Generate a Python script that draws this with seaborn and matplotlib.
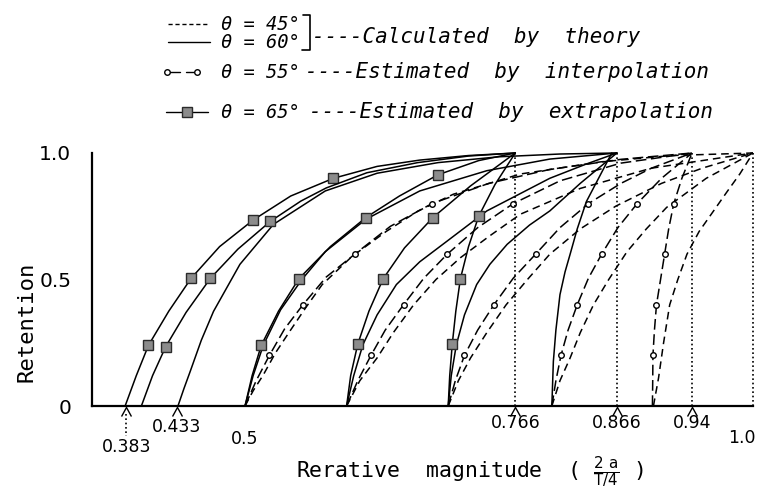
import numpy as np
import pandas as pd
import matplotlib
matplotlib.use("Agg")
import matplotlib.pyplot as plt
from matplotlib.path import Path
import seaborn as sns

# ---------------------------------------------------------------------------
# Retention curves: x = relative magnitude 2a/(T/4), y = retention
# theta = 65 deg (estimated by extrapolation, squares), ends at 0.766
s65_a_x = [0.382, 0.393, 0.405, 0.425, 0.447, 0.475, 0.508, 0.545, 0.587, 0.630, 0.672, 0.720, 0.766]
s65_a_y = [0.0, 0.12, 0.24, 0.375, 0.505, 0.63, 0.735, 0.83, 0.90, 0.947, 0.972, 0.99, 1.0]
s65_b_x = [0.398, 0.409, 0.422, 0.442, 0.466, 0.493, 0.525, 0.555, 0.580, 0.620, 0.670, 0.720, 0.766]
s65_b_y = [0.0, 0.12, 0.235, 0.37, 0.505, 0.62, 0.73, 0.81, 0.862, 0.922, 0.962, 0.988, 1.0]
s65_c_x = [0.5, 0.507, 0.516, 0.533, 0.553, 0.584, 0.619, 0.652, 0.690, 0.730, 0.766]
s65_c_y = [0.0, 0.12, 0.24, 0.375, 0.503, 0.63, 0.745, 0.83, 0.914, 0.97, 1.0]
s65_d_x = [0.6, 0.604, 0.611, 0.622, 0.636, 0.657, 0.685, 0.722, 0.766]
s65_d_y = [0.0, 0.12, 0.245, 0.375, 0.503, 0.625, 0.745, 0.87, 1.0]
s65_e_x = [0.7, 0.7015, 0.704, 0.7075, 0.712, 0.720, 0.730, 0.746, 0.766]
s65_e_y = [0.0, 0.12, 0.245, 0.375, 0.503, 0.63, 0.75, 0.875, 1.0]
s65_marks = [[2, 4, 6, 8], [2, 4, 6], [2, 4, 6, 8], [2, 4, 6], [2, 4, 6]]

# theta = 60 deg (calculated by theory, solid), ends at 0.866
t60_a_x = [0.434, 0.440, 0.446, 0.457, 0.469, 0.495, 0.528, 0.579, 0.630, 0.690, 0.750, 0.810, 0.866]
t60_a_y = [0.0, 0.07, 0.136, 0.26, 0.374, 0.56, 0.718, 0.85, 0.92, 0.962, 0.985, 0.996, 1.0]
t60_b_x = [0.5, 0.508, 0.518, 0.535, 0.556, 0.579, 0.619, 0.672, 0.738, 0.800, 0.866]
t60_b_y = [0.0, 0.12, 0.24, 0.38, 0.50, 0.61, 0.738, 0.85, 0.93, 0.976, 1.0]
t60_c_x = [0.6, 0.607, 0.616, 0.630, 0.649, 0.672, 0.699, 0.738, 0.800, 0.835, 0.866]
t60_c_y = [0.0, 0.12, 0.242, 0.36, 0.48, 0.57, 0.652, 0.771, 0.90, 0.955, 1.0]
t60_d_x = [0.7, 0.703, 0.708, 0.716, 0.728, 0.741, 0.758, 0.780, 0.800, 0.830, 0.866]
t60_d_y = [0.0, 0.12, 0.242, 0.36, 0.48, 0.56, 0.639, 0.715, 0.771, 0.88, 1.0]
t60_e_x = [0.802, 0.8035, 0.806, 0.810, 0.815, 0.820, 0.827, 0.836, 0.848, 0.861]
t60_e_y = [0.0, 0.176, 0.30, 0.44, 0.53, 0.60, 0.70, 0.808, 0.90, 1.0]

# theta = 55 deg (estimated by interpolation, circles), ends at 0.94
i55_a_x = [0.5, 0.511, 0.524, 0.539, 0.557, 0.580, 0.608, 0.643, 0.684, 0.740, 0.800, 0.870, 0.940]
i55_a_y = [0.0, 0.1, 0.2, 0.305, 0.4, 0.51, 0.6, 0.71, 0.8, 0.88, 0.935, 0.975, 1.0]
i55_b_x = [0.6, 0.611, 0.624, 0.638, 0.656, 0.676, 0.699, 0.729, 0.764, 0.810, 0.870, 0.940]
i55_b_y = [0.0, 0.1, 0.2, 0.3, 0.4, 0.505, 0.6, 0.705, 0.8, 0.89, 0.96, 1.0]
i55_c_x = [0.7, 0.707, 0.716, 0.729, 0.745, 0.764, 0.786, 0.810, 0.838, 0.870, 0.900, 0.940]
i55_c_y = [0.0, 0.1, 0.2, 0.3, 0.4, 0.505, 0.6, 0.705, 0.8, 0.88, 0.94, 1.0]
i55_d_x = [0.802, 0.806, 0.811, 0.818, 0.827, 0.838, 0.851, 0.867, 0.886, 0.910, 0.940]
i55_d_y = [0.0, 0.1, 0.2, 0.3, 0.4, 0.505, 0.6, 0.705, 0.8, 0.9, 1.0]
i55_e_x = [0.901, 0.9013, 0.9015, 0.903, 0.905, 0.909, 0.913, 0.917, 0.922, 0.930, 0.940]
i55_e_y = [0.0, 0.1, 0.2, 0.3, 0.4, 0.5, 0.6, 0.7, 0.8, 0.9, 1.0]
i55_marks = [2, 4, 6, 8]

# theta = 45 deg (calculated by theory, dashed), ends at 1.0
t45_a_x = [0.5, 0.508, 0.518, 0.530, 0.544, 0.560, 0.576, 0.605, 0.639, 0.670, 0.705, 0.771, 0.850, 0.920, 1.0]
t45_a_y = [0.0, 0.06, 0.123, 0.21, 0.295, 0.39, 0.48, 0.59, 0.69, 0.77, 0.837, 0.917, 0.965, 0.99, 1.0]
t45_b_x = [0.6, 0.613, 0.630, 0.646, 0.666, 0.688, 0.712, 0.740, 0.771, 0.830, 0.900, 1.0]
t45_b_y = [0.0, 0.1, 0.19, 0.29, 0.40, 0.50, 0.586, 0.67, 0.758, 0.86, 0.94, 1.0]
t45_c_x = [0.7, 0.710, 0.722, 0.738, 0.757, 0.778, 0.800, 0.830, 0.865, 0.910, 0.950, 1.0]
t45_c_y = [0.0, 0.1, 0.19, 0.29, 0.40, 0.5, 0.6, 0.7, 0.79, 0.88, 0.94, 1.0]
t45_d_x = [0.802, 0.810, 0.820, 0.830, 0.843, 0.858, 0.876, 0.895, 0.915, 0.954, 1.0]
t45_d_y = [0.0, 0.1, 0.19, 0.29, 0.40, 0.5, 0.61, 0.7, 0.785, 0.90, 1.0]
t45_e_x = [0.902, 0.907, 0.912, 0.918, 0.926, 0.935, 0.947, 0.961, 0.975, 0.987, 1.0]
t45_e_y = [0.0, 0.11, 0.25, 0.40, 0.5, 0.6, 0.69, 0.77, 0.85, 0.917, 1.0]

# reference values on the x axis
limit_x = [0.766, 0.866, 0.94, 1.0]
caret_x = [0.383, 0.433, 0.766, 0.866, 0.94]
xtick_vals = [0.5, 0.6, 0.7, 0.8, 0.9, 1.0]
xlabel_vals = ["0.383", "0.433", "0.5", "0.766", "0.866", "0.94", "1.0"]
ytick_vals = [0.0, 0.25, 0.5, 0.75, 1.0]
ylabel_text = {0.0: "0", 0.5: "0.5", 1.0: "1.0"}

# ---------------------------------------------------------------------------
sns.set_style("white")
plt.rcParams["font.family"] = ["DejaVu Sans"]
plt.rcParams["mathtext.fontset"] = "dejavusans"
for key in ["text.color", "axes.labelcolor", "xtick.color", "ytick.color"]:
    plt.rcParams[key] = "black"

MONO = ["DejaVu Sans Mono"]

W, H = 762, 493
fig = plt.figure(figsize=(W / 100, H / 100), dpi=100)
fig.patch.set_facecolor("white")

# overlay in pixel units for the key and the free-standing labels
lax = fig.add_axes([0, 0, 1, 1])
lax.set_xlim(0, W)
lax.set_ylim(H, 0)
lax.axis("off")

ax = fig.add_axes([92 / W, 1 - 406 / H, (753 - 92) / W, (406 - 153) / H])
ax.set_facecolor("none")
ax.set_xlim(0.3494, 1.0)
ax.set_ylim(0, 1.0)

LW = 1.1
DASH45 = (0, (5, 3.2))
DASH55 = (0, (7, 3))


def curve(x, y, ls="-", marker=None, marks=None, **kw):
    df = pd.DataFrame({"x": x, "y": y})
    sns.lineplot(data=df, x="x", y="y", ax=ax, sort=False, estimator=None,
                 color="black", lw=LW, linestyle=ls, marker=marker,
                 markevery=marks, clip_on=False, **kw)


sq_kw = dict(markersize=6.5, markerfacecolor="#8c8c8c", markeredgecolor="#2b2b2b",
             markeredgewidth=1.0)
ci_kw = dict(markersize=4.0, markerfacecolor="white", markeredgecolor="black",
             markeredgewidth=1.0)

# theory, theta = 45 deg
for xs, ys in [(t45_a_x, t45_a_y), (t45_b_x, t45_b_y), (t45_c_x, t45_c_y),
               (t45_d_x, t45_d_y), (t45_e_x, t45_e_y)]:
    curve(xs, ys, ls=DASH45)

# theory, theta = 60 deg
for xs, ys in [(t60_a_x, t60_a_y), (t60_b_x, t60_b_y), (t60_c_x, t60_c_y),
               (t60_d_x, t60_d_y), (t60_e_x, t60_e_y)]:
    curve(xs, ys)

# interpolation, theta = 55 deg
for xs, ys in [(i55_a_x, i55_a_y), (i55_b_x, i55_b_y), (i55_c_x, i55_c_y),
               (i55_d_x, i55_d_y), (i55_e_x, i55_e_y)]:
    curve(xs, ys, ls=DASH55, marker="o", marks=i55_marks, **ci_kw)

# extrapolation, theta = 65 deg
for (xs, ys), mk in zip([(s65_a_x, s65_a_y), (s65_b_x, s65_b_y), (s65_c_x, s65_c_y),
                         (s65_d_x, s65_d_y), (s65_e_x, s65_e_y)], s65_marks):
    curve(xs, ys, marker="s", marks=mk, **sq_kw)

# dotted limits
ax.vlines(limit_x, 0, 1.0, colors="black", linestyles=(0, (1, 1.6)), lw=1.2, clip_on=False)
ax.plot([0.383, 0.383], [-0.03, -0.12], color="black", ls=(0, (1, 1.6)), lw=1.2,
        clip_on=False)

# caret marks under the axis
caret = Path([(-0.55, -1.0), (0.0, 0.0), (0.55, -1.0)],
             [Path.MOVETO, Path.LINETO, Path.LINETO])
ax.plot(caret_x, [-0.005] * len(caret_x), ls="none", marker=caret, markersize=13,
        markerfacecolor="none", markeredgecolor="black", markeredgewidth=1.0,
        clip_on=False)

# axes styling
for side in ["top", "right"]:
    ax.spines[side].set_visible(False)
for side in ["left", "bottom"]:
    ax.spines[side].set_linewidth(1.6)
    ax.spines[side].set_color("black")

ax.set_xticks(xtick_vals)
ax.set_xticklabels([])
ax.tick_params(axis="x", direction="inout", length=8, width=1.2, color="black")
ax.set_yticks(ytick_vals)
ax.set_yticklabels([ylabel_text.get(v, "") for v in ytick_vals], fontsize=14.5)
ax.tick_params(axis="y", direction="out", length=7, width=1.2, pad=8, color="black")
ax.set_xlabel("")
ax.set_ylabel("")

# x tick labels at the listed values
lab_pos = {"0.383": (0.383, 447), "0.433": (0.433, 427), "0.5": (0.5, 439),
           "0.766": (0.766, 423), "0.866": (0.866, 423), "0.94": (0.94, 423),
           "1.0": (0.989, 438)}
for lab in xlabel_vals:
    xv, py = lab_pos[lab]
    px = 245 + (xv - 0.5) * 1016
    lax.text(px, py, lab, ha="center", va="center", fontsize=12.5)

# axis titles
lax.text(27, 322, "Retention", rotation=90, ha="center", va="center", fontsize=16,
         family=MONO)
lax.text(470, 472, r"Rerative  magnitude  ( $\frac{\mathsf{2\ a}}{\mathsf{T/4}}$ )",
         ha="center", va="center", fontsize=15.5, family=MONO)

# key
it = dict(style="italic", fontsize=13.5, va="center", family=MONO)
desc = dict(style="italic", fontsize=15, va="center", family=MONO)
lax.plot([168, 207], [24, 24], color="black", lw=1.0, ls=(0, (3, 2)))
lax.text(221, 24, "θ = 45°", **it)
lax.plot([168, 210], [42, 42], color="black", lw=1.0)
lax.text(221, 42, "θ = 60°", **it)
lax.plot([303, 310, 310, 302], [15, 15, 50, 50], color="black", lw=1.2)
lax.text(312, 37, "----Calculated  by  theory", **desc)

lax.plot([170, 180], [72, 72], color="black", lw=1.0)
lax.plot([186, 195], [72, 72], color="black", lw=1.0)
lax.plot([167, 197], [72, 72], ls="none", marker="o", **ci_kw)
lax.text(221, 72, "θ = 55°", **it)
lax.text(305, 72, "----Estimated  by  interpolation", **desc)

lax.plot([166, 208], [112, 112], color="black", lw=1.0)
lax.plot([187], [112], ls="none", marker="s", **sq_kw)
lax.text(221, 112, "θ = 65°", **it)
lax.text(309, 112, "----Estimated  by  extrapolation", **desc)

fig.savefig("out.png", dpi=100)
